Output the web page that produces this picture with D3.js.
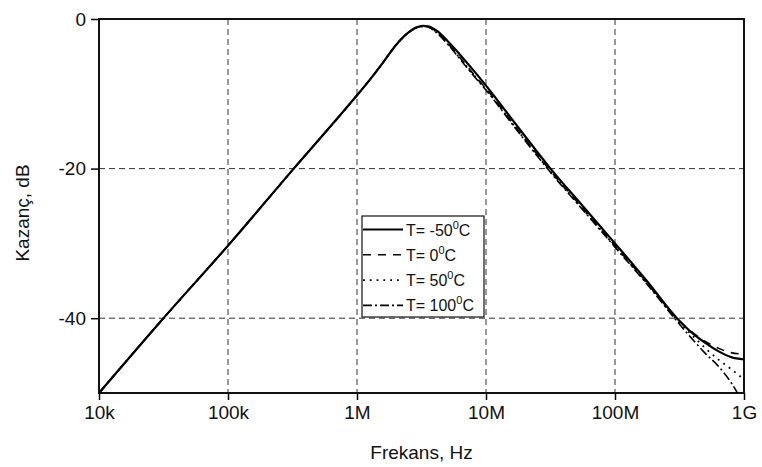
<!DOCTYPE html>
<html>
<head>
<meta charset="utf-8">
<script src="https://cdn.jsdelivr.net/npm/d3@7"></script>
<style>
  body { margin: 0; background: #fff; }
  svg { display: block; font-family: "Liberation Sans", Arial, sans-serif; }
</style>
</head>
<body>
<svg id="chart" width="762" height="467"></svg>
<script>
// ---- data ----
const freqs = [1e4, 3.16e4, 1e5, 3.16e5, 1e6, 1.26e6, 1.58e6, 2.0e6, 2.51e6, 2.88e6, 3.24e6, 3.63e6, 4.17e6, 5.01e6, 6.31e6, 7.94e6, 1e7, 1.78e7, 3.16e7, 5.62e7, 1e8, 1.78e8, 3.02e8, 3.98e8, 5.01e8, 6.31e8, 7.94e8, 1e9];
const gainM50 = [-50, -40, -30.3, -20.2, -10.2, -8.1, -5.9, -3.5, -1.8, -1.15, -0.9, -1.0, -1.6, -2.9, -4.8, -6.8, -8.9, -14.5, -20.0, -25.0, -30.0, -35.1, -40.0, -42.0, -43.3, -44.4, -45.2, -45.5];
const gain0   = [-50, -40, -30.3, -20.2, -10.2, -8.1, -5.9, -3.5, -1.8, -1.15, -0.95, -1.1, -1.8, -3.2, -5.2, -7.3, -9.3, -14.9, -20.3, -25.3, -30.3, -35.3, -40.0, -41.9, -43.1, -44.0, -44.6, -44.8];
const gain50  = [-50, -40, -30.3, -20.2, -10.2, -8.1, -5.9, -3.5, -1.8, -1.15, -1.0, -1.1, -1.8, -3.2, -5.3, -7.4, -9.4, -15.0, -20.4, -25.4, -30.4, -35.4, -40.2, -42.3, -44.0, -45.5, -46.8, -48.2];
const gain100 = [-50, -40, -30.3, -20.2, -10.2, -8.1, -5.9, -3.5, -1.8, -1.15, -1.0, -1.15, -1.9, -3.3, -5.4, -7.5, -9.5, -15.1, -20.5, -25.5, -30.5, -35.5, -40.4, -42.8, -44.7, -46.4, -48.6, -51.6];
const seriesNames = ["T= -50", "T= 0", "T= 50", "T= 100"];
const xTickValues = [1e4, 1e5, 1e6, 1e7, 1e8, 1e9];
const xTickLabels = ["10k", "100k", "1M", "10M", "100M", "1G"];
const yTickValues = [0, -20, -40];
const yTickLabels = ["0", "-20", "-40"];
const xTitle = "Frekans, Hz";
const yTitle = "Kazanç, dB";

// ---- layout ----
const svg = d3.select("#chart");
const L = 99, R = 744, T = 19, B = 393;
const x = d3.scaleLog().domain([1e4, 1e9]).range([L, R]);
const y = d3.scaleLinear().domain([-50, 0]).range([B, T]);

svg.append("rect").attr("width", 762).attr("height", 467).attr("fill", "#fff");

svg.append("clipPath").attr("id", "clip")
  .append("rect").attr("x", L).attr("y", T).attr("width", R - L).attr("height", B - T);

// grid
const grid = svg.append("g");
grid.selectAll("line.vg").data(xTickValues.slice(1, -1)).join("line")
  .attr("x1", d => x(d)).attr("x2", d => x(d)).attr("y1", T).attr("y2", B)
  .attr("stroke", "#333").attr("stroke-width", 1).attr("stroke-dasharray", "6,4");
grid.selectAll("line.hg").data(yTickValues.slice(1)).join("line")
  .attr("x1", L).attr("x2", R).attr("y1", d => y(d)).attr("y2", d => y(d))
  .attr("stroke", "#333").attr("stroke-width", 1).attr("stroke-dasharray", "6,4");

// axes
const xAxis = d3.axisBottom(x).tickValues(xTickValues)
  .tickFormat((d, i) => xTickLabels[i]).tickSize(7).tickPadding(6);
const gx = svg.append("g").attr("transform", `translate(0,${B})`).call(xAxis);
gx.select(".domain").remove();
gx.selectAll("line").attr("stroke", "#000").attr("stroke-width", 1.5);
gx.selectAll("text").attr("font-size", 19).attr("fill", "#111")
  .attr("font-family", "Liberation Sans, Arial, sans-serif");

const yAxis = d3.axisLeft(y).tickValues(yTickValues)
  .tickFormat((d, i) => yTickLabels[i]).tickSize(8).tickPadding(5);
const gy = svg.append("g").attr("transform", `translate(${L},0)`).call(yAxis);
gy.select(".domain").remove();
gy.selectAll("line").attr("stroke", "#000").attr("stroke-width", 1.5);
gy.selectAll("text").attr("font-size", 19).attr("fill", "#111")
  .attr("font-family", "Liberation Sans, Arial, sans-serif");

// frame
svg.append("rect").attr("x", L).attr("y", T).attr("width", R - L).attr("height", B - T)
  .attr("fill", "none").attr("stroke", "#111").attr("stroke-width", 2);

// titles
svg.append("text").attr("x", (L + R) / 2).attr("y", 459).attr("text-anchor", "middle")
  .attr("font-size", 19).attr("fill", "#111").text(xTitle);
svg.append("text").attr("transform", `translate(29,${(T + B) / 2 + 7}) rotate(-90)`)
  .attr("text-anchor", "middle").attr("font-size", 19).attr("fill", "#111").text(yTitle);

// series
const styles = [
  { dash: null, width: 2.2 },
  { dash: "8,7", width: 1.6 },
  { dash: "1.8,5", width: 1.8 },
  { dash: "9,3,2,3", width: 1.6 }
];
const allGains = [gainM50, gain0, gain50, gain100];
const line = d3.line().x(d => x(d[0])).y(d => y(d[1])).curve(d3.curveMonotoneX);
const plot = svg.append("g").attr("clip-path", "url(#clip)");
allGains.forEach((g, i) => {
  plot.append("path")
    .datum(freqs.map((f, j) => [f, g[j]]))
    .attr("d", line)
    .attr("fill", "none").attr("stroke", "#000")
    .attr("stroke-width", styles[i].width)
    .attr("stroke-dasharray", styles[i].dash)
    .attr("stroke-linejoin", "round");
});

// legend
const lg = svg.append("g");
lg.append("rect").attr("x", 362).attr("y", 216).attr("width", 122).attr("height", 101)
  .attr("fill", "#fff").attr("stroke", "#111").attr("stroke-width", 1.2);
seriesNames.forEach((name, i) => {
  const yy = 229.5 + i * 25.3;
  lg.append("line").attr("x1", 363).attr("x2", 403).attr("y1", yy).attr("y2", yy)
    .attr("stroke", "#000").attr("stroke-width", styles[i].width)
    .attr("stroke-dasharray", styles[i].dash);
  const t = lg.append("text").attr("x", 406).attr("y", yy + 6)
    .attr("font-size", 16).attr("fill", "#111");
  t.append("tspan").text(name);
  t.append("tspan").attr("font-size", 11).attr("dy", -7).text("0");
  t.append("tspan").attr("dy", 7).text("C");
});
</script>
</body>
</html>
